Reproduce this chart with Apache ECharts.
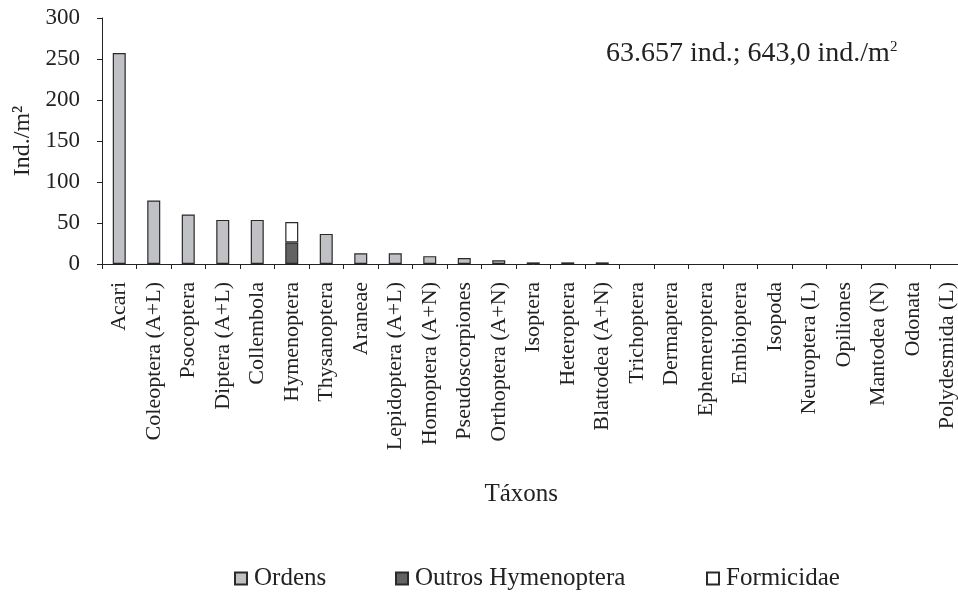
<!DOCTYPE html>
<html>
<head>
<meta charset="utf-8">
<script src="https://cdn.jsdelivr.net/npm/echarts@6/dist/echarts.min.js"></script>
<style>
  html, body { margin: 0; padding: 0; background: #fff; overflow: hidden; }
  #chart { width: 975px; height: 599px; }
</style>
</head>
<body>
<div id="chart"></div>
<script>
const categories = [
  'Acari', 'Coleoptera (A+L)', 'Psocoptera', 'Diptera (A+L)', 'Collembola',
  'Hymenoptera', 'Thysanoptera', 'Araneae', 'Lepidoptera (A+L)', 'Homoptera (A+N)',
  'Pseudoscorpiones', 'Orthoptera (A+N)', 'Isoptera', 'Heteroptera', 'Blattodea (A+N)',
  'Trichoptera', 'Dermaptera', 'Ephemeroptera', 'Embioptera', 'Isopoda',
  'Neuroptera (L)', 'Opiliones', 'Mantodea (N)', 'Odonata', 'Polydesmida (L)'
]
// values too small to see are left as 0
const ordens = [257.3, 77.5, 60.4, 53.8, 53.8, null, 36.7, 13, 13, 9.6,
  7.2, 4.6, 2, 2, 2, 0, 0, 0, 0, 0, 0, 0, 0, 0, 0]
const outrosHymenoptera = [null, null, null, null, null, 26.2, null, null, null, null,
  null, null, null, null, null, null, null, null, null, null, null, null, null, null, null]
const formicidae = [null, null, null, null, null, 25.1, null, null, null, null,
  null, null, null, null, null, null, null, null, null, null, null, null, null, null, null]
const yTicks = [0, 50, 100, 150, 200, 250, 300]
const legendNames = ['Ordens', 'Outros Hymenoptera', 'Formicidae']

const font = 'Liberation Serif'
const ink = '#222'

const chart = echarts.init(document.getElementById('chart'))

const barStyle = (fill) => ({
  color: fill,
  borderColor: '#2a2a2a',
  borderWidth: 1.2
})

// a zero height bar would still draw its border as a line
const hideZero = (arr) => arr.map(v => (v === 0 ? null : v))

const legendAt = (name, left) => ({
  left: left,
  top: 561,
  icon: 'rect',
  itemWidth: 12,
  itemHeight: 12,
  itemGap: 0,
  textStyle: { fontFamily: font, fontSize: 25, color: ink, padding: [0, 0, 0, 2] },
  data: [name]
})

const option = {
  animation: false,
  textStyle: { fontFamily: font, color: ink },
  grid: { left: 102, top: 18, right: 10.5, bottom: 335 },
  xAxis: {
    type: 'category',
    data: categories,
    name: 'Táxons',
    nameLocation: 'middle',
    nameGap: 218,
    nameTextStyle: { fontFamily: font, fontSize: 25, color: ink, padding: [0, 24, 0, 0] },
    axisLine: { lineStyle: { color: ink, width: 1 } },
    axisTick: { show: true, length: 5, lineStyle: { color: ink } },
    axisLabel: {
      rotate: 90, interval: 0, margin: 18,
      fontFamily: font, fontSize: 22, color: ink
    }
  },
  yAxis: {
    type: 'value',
    min: yTicks[0],
    max: yTicks[yTicks.length - 1],
    interval: 50,
    name: 'Ind./m²',
    nameLocation: 'middle',
    nameGap: 66,
    nameRotate: 90,
    nameTextStyle: { fontFamily: font, fontSize: 24, color: ink },
    axisLine: { show: true, lineStyle: { color: ink, width: 1 } },
    axisTick: { show: true, length: 5, lineStyle: { color: ink } },
    axisLabel: { margin: 22, fontFamily: font, fontSize: 23, color: ink },
    splitLine: { show: false }
  },
  legend: [
    legendAt(legendNames[0], 229),
    legendAt(legendNames[1], 390),
    legendAt(legendNames[2], 701)
  ],
  graphic: [{
    type: 'text',
    left: 606,
    top: 40,
    style: {
      text: '63.657 ind.; 643,0 ind./m{sup|2}',
      fontFamily: font,
      fontSize: 28,
      fill: ink,
      rich: {
        sup: { fontFamily: font, fontSize: 15, verticalAlign: 'top', padding: [0, 0, 12, 0], fill: ink }
      }
    }
  }],
  series: [
    {
      name: legendNames[0], type: 'bar', stack: 'total', barWidth: 13,
      data: hideZero(ordens), itemStyle: barStyle('#c0c1c5')
    },
    {
      name: legendNames[1], type: 'bar', stack: 'total', barWidth: 13,
      data: outrosHymenoptera, itemStyle: barStyle('#636363')
    },
    {
      name: legendNames[2], type: 'bar', stack: 'total', barWidth: 13,
      data: formicidae, itemStyle: barStyle('#ffffff')
    }
  ]
}

chart.setOption(option)
</script>
</body>
</html>
